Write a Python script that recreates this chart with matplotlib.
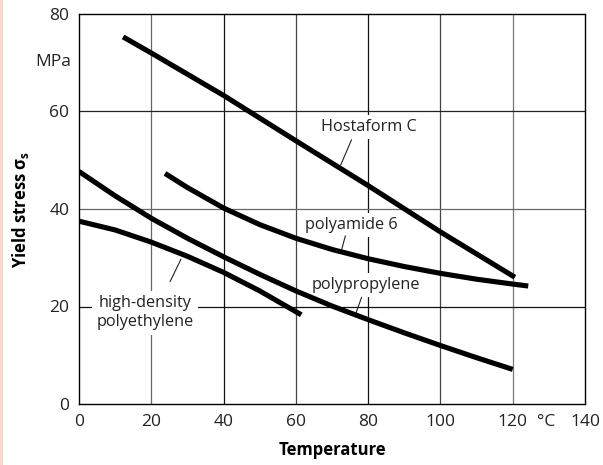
import matplotlib
matplotlib.use("Agg")
import matplotlib.pyplot as plt
from matplotlib.patches import Rectangle
from matplotlib.transforms import blended_transform_factory

plt.rcParams['font.family'] = ['Open Sans', 'DejaVu Sans']

# ---- data ----
hosta_T = [12.2, 20, 40, 60, 80, 100, 120.6]
hosta_S = [75.3, 72.0, 63.3, 54.0, 44.8, 35.3, 26.0]

pa6_T = [23.8, 30, 40, 50, 60, 70, 80, 90, 100, 110, 120, 124.3]
pa6_S = [47.3, 44.4, 40.2, 36.8, 34.0, 31.7, 29.8, 28.2, 26.8, 25.6, 24.6, 24.2]

pp_T = [0, 10, 20, 30, 40, 50, 60, 70, 80, 90, 100, 110, 120]
pp_S = [47.7, 42.7, 38.1, 34.0, 30.2, 26.6, 23.2, 20.1, 17.3, 14.6, 12.0, 9.5, 7.1]

hdpe_T = [0, 10, 20, 30, 40, 50, 61.5]
hdpe_S = [37.5, 35.7, 33.2, 30.3, 27.0, 23.2, 18.3]

x_ticks = [0, 20, 40, 60, 80, 100, 120, 129.2, 140]
x_ticklabels = ["0", "20", "40", "60", "80", "100", "120", "°C", "140"]
y_ticks = [0, 20, 40, 60, 80]

# label text, text position, leader start, leader end (data coords)
labels = [
    ("Hostaform C", (80.3, 56.8), (75.4, 54.2), (72.4, 49.0)),
    ("polyamide 6", (75.4, 36.7), (73.7, 34.5), (72.5, 31.2)),
    ("polypropylene", (79.4, 24.4), (78.2, 21.9), (76.6, 18.6)),
    ("high-density\npolyethylene", (18.2, 18.7), (25.2, 25.1), (28.2, 29.7)),
]

W, H = 603, 465
fig = plt.figure(figsize=(W / 100, H / 100), dpi=100)
fig.patches.append(Rectangle((0, 0), 3 / W, 1, transform=fig.transFigure,
                             facecolor="#f9d9cf", edgecolor="none"))
ax = fig.add_axes([79 / W, 1 - 404 / H, (585 - 79) / W, (404 - 14) / H])
ax.set_xlim(0, 140)
ax.set_ylim(0, 80)

# grid lines
vcols = {20: "#666666", 40: "#111111", 60: "#444444", 80: "#111111",
         100: "#444444", 120: "#777777"}
for xv, c in vcols.items():
    ax.axvline(xv, color=c, lw=0.9, zorder=1)
hcols = {20: "#111111", 40: "#666666", 60: "#222222"}
for yv, c in hcols.items():
    ax.axhline(yv, color=c, lw=0.9, zorder=1)

lw = 3.7
for T, S in [(hosta_T, hosta_S), (pa6_T, pa6_S), (pp_T, pp_S), (hdpe_T, hdpe_S)]:
    ax.plot(T, S, color="black", lw=lw, solid_capstyle="butt",
            solid_joinstyle="round", zorder=4)

for txt, pos, a, b in labels:
    ax.text(pos[0], pos[1], txt, ha="center", va="center", fontsize=11.7,
            color="#222222", linespacing=1.25, zorder=3,
            bbox=dict(facecolor="white", edgecolor="none", pad=3))
    ax.annotate("", xy=b, xytext=a,
                arrowprops=dict(arrowstyle="-", lw=0.8, color="#222222",
                                shrinkA=0, shrinkB=0), zorder=3)

ax.set_xticks(x_ticks)
ax.set_xticklabels(x_ticklabels)
ax.set_yticks(y_ticks)
ax.tick_params(length=0, labelsize=12.5, pad=7, colors="#222222")
for sp in ax.spines.values():
    sp.set_color("black")
    sp.set_linewidth(1.0)

tr2 = blended_transform_factory(ax.transAxes, ax.transData)
ax.text(-0.016, 70.2, "MPa", transform=tr2, ha="right", va="center",
        fontsize=12.5, color="#222222")

ax.set_xlabel("Temperature", fontsize=12, fontweight="bold", labelpad=8)
ax.set_ylabel("Yield stress σ$_\\mathregular{s}$", fontsize=12,
              fontweight="bold", labelpad=13)

fig.savefig("out.png", dpi=100)
